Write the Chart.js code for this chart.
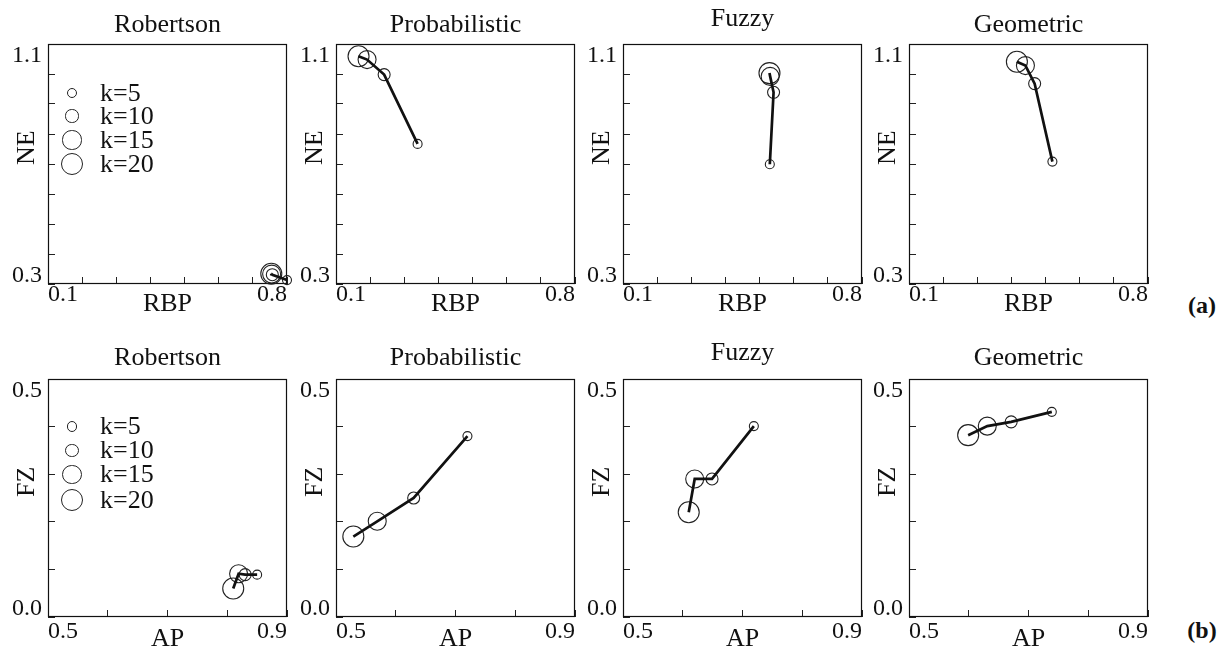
<!DOCTYPE html>
<html><head><meta charset="utf-8">
<script src="https://cdn.jsdelivr.net/npm/chart.js@4.4.1/dist/chart.umd.min.js"></script>
<style>
html,body{margin:0;padding:0;background:#fff;overflow:hidden;width:1227px;height:652px;}
#fig{position:relative;width:1227px;height:652px;font-family:'Liberation Serif','Times New Roman',serif;color:#111;}
.panel{position:absolute;}
.title{position:absolute;font-size:26px;line-height:26px;white-space:nowrap;transform:translateX(-50%);}
.leg{position:absolute;font-size:26px;line-height:26px;white-space:nowrap;}
.mk{position:absolute;border:1.1px solid #222;border-radius:50%;box-sizing:border-box;}
.tag{position:absolute;font-weight:bold;font-size:24px;line-height:24px;white-space:nowrap;transform:translateX(-50%);}
</style></head><body><div id="fig"></div>
<script>
// ---------------- data ----------------
const METHODS = ['Robertson', 'Probabilistic', 'Fuzzy', 'Geometric'];
const K_VALUES = [5, 10, 15, 20];

// (a) RBP vs NE, points ordered k=5,10,15,20
const RBP_ROBERTSON     = [0.800, 0.757, 0.755, 0.754];
const NE_ROBERTSON      = [0.313, 0.331, 0.333, 0.334];
const RBP_PROBABILISTIC = [0.339, 0.241, 0.191, 0.166];
const NE_PROBABILISTIC  = [0.767, 0.998, 1.048, 1.059];
const RBP_FUZZY         = [0.530, 0.541, 0.531, 0.529];
const NE_FUZZY          = [0.699, 0.939, 0.992, 1.003];
const RBP_GEOMETRIC     = [0.520, 0.468, 0.441, 0.416];
const NE_GEOMETRIC      = [0.708, 0.968, 1.028, 1.041];

// (b) AP vs FZ, points ordered k=5,10,15,20
const AP_ROBERTSON      = [0.850, 0.830, 0.819, 0.810];
const FZ_ROBERTSON      = [0.089, 0.089, 0.091, 0.060];
const AP_PROBABILISTIC  = [0.720, 0.630, 0.569, 0.529];
const FZ_PROBABILISTIC  = [0.380, 0.250, 0.201, 0.169];
const AP_FUZZY          = [0.719, 0.649, 0.620, 0.610];
const FZ_FUZZY          = [0.401, 0.290, 0.290, 0.220];
const AP_GEOMETRIC      = [0.739, 0.671, 0.631, 0.599];
const FZ_GEOMETRIC      = [0.431, 0.410, 0.401, 0.382];

// axis ranges / tick labels
const RBP_RANGE = [0.1, 0.8];
const NE_RANGE  = [0.3, 1.1];
const AP_RANGE  = [0.5, 0.9];
const FZ_RANGE  = [0.0, 0.5];
const TICK_STEP = 0.1;
const RBP_TICK_LABELS = ['0.1', '0.8'];
const NE_TICK_LABELS  = ['0.3', '1.1'];
const AP_TICK_LABELS  = ['0.5', '0.9'];
const FZ_TICK_LABELS  = ['0.0', '0.5'];

// ---------------- layout / style ----------------
const SERIF = "'Liberation Serif', 'Times New Roman', serif";
const INK = '#111';
const MARKER_RADII = [4.5, 6, 9, 10.5];
const PLOT_LEFTS = [48, 336, 623, 909];
const PLOT_W = 239;
const YW = 50, TP = 12, RP = 14, XH = 45;
const TICK_FONT = 24;
const TEXT_BASE = 21.8; // baseline offset of a 26px/26px text line

Chart.defaults.font.family = SERIF;
Chart.defaults.color = INK;

const ROWS = [
  { tag: '(a)', tagY: 293, top: 44, h: 240, titleBase: 32.5,
    xName: 'RBP', yName: 'NE', xRange: RBP_RANGE, yRange: NE_RANGE,
    xLabels: RBP_TICK_LABELS, yLabels: NE_TICK_LABELS,
    xTickPad: 3, xTitlePad: 9,
    xs: [RBP_ROBERTSON, RBP_PROBABILISTIC, RBP_FUZZY, RBP_GEOMETRIC],
    ys: [NE_ROBERTSON, NE_PROBABILISTIC, NE_FUZZY, NE_GEOMETRIC],
    legY: [49, 72, 96, 120] },
  { tag: '(b)', tagY: 618, top: 379, h: 238, titleBase: 366,
    xName: 'AP', yName: 'FZ', xRange: AP_RANGE, yRange: FZ_RANGE,
    xLabels: AP_TICK_LABELS, yLabels: FZ_TICK_LABELS,
    xTickPad: 7.5, xTitlePad: 7,
    xs: [AP_ROBERTSON, AP_PROBABILISTIC, AP_FUZZY, AP_GEOMETRIC],
    ys: [FZ_ROBERTSON, FZ_PROBABILISTIC, FZ_FUZZY, FZ_GEOMETRIC],
    legY: [47.5, 71.5, 95.5, 121] }
];

const framePlugin = {
  id: 'frame',
  beforeDatasetsDraw(chart) {
    const a = chart.chartArea, c = chart.ctx;
    c.save();
    c.strokeStyle = INK; c.lineWidth = 1.2;
    c.strokeRect(Math.round(a.left) + 0.5, Math.round(a.top) + 0.5,
                 Math.round(a.right - a.left) - 1, Math.round(a.bottom - a.top) - 1);
    c.restore();
  }
};

const near = (a, b) => Math.abs(a - b) < 1e-6;
const fig = document.getElementById('fig');

function addText(cls, text, left, top) {
  const d = document.createElement('div');
  d.className = cls; d.textContent = text;
  d.style.left = left + 'px'; d.style.top = top + 'px';
  fig.appendChild(d);
  return d;
}

function makePanel(row, m) {
  const plotLeft = PLOT_LEFTS[m], plotTop = row.top, H = row.h;
  const div = document.createElement('div');
  div.className = 'panel';
  div.style.left = (plotLeft - YW) + 'px';
  div.style.top = (plotTop - TP) + 'px';
  div.style.width = (YW + PLOT_W + RP) + 'px';
  div.style.height = (TP + H + XH) + 'px';
  const cv = document.createElement('canvas');
  div.appendChild(cv);
  fig.appendChild(div);

  const xs = row.xs[m], ys = row.ys[m];
  const pts = xs.map((x, i) => ({ x: x, y: ys[i] }));
  const [xMin, xMax] = row.xRange, [yMin, yMax] = row.yRange;

  new Chart(cv, {
    type: 'scatter',
    data: { datasets: [
      { label: 'path', data: pts, showLine: true, borderColor: INK, borderWidth: 2.7,
        pointRadius: 0, clip: false, order: 0 },
      { label: 'k', data: pts, showLine: false, pointStyle: 'circle',
        pointRadius: MARKER_RADII, pointBorderColor: '#222', pointBorderWidth: 1.1,
        pointBackgroundColor: 'rgba(0,0,0,0)', clip: false, order: 1 }
    ]},
    plugins: [framePlugin],
    options: {
      responsive: true, maintainAspectRatio: false, animation: false, events: [],
      layout: { padding: { top: TP, right: RP, left: 0, bottom: 0 } },
      plugins: { legend: { display: false }, tooltip: { enabled: false }, title: { display: false } },
      scales: {
        x: {
          type: 'linear', position: 'bottom', min: xMin, max: xMax,
          border: { display: false },
          grid: { drawOnChartArea: false, drawTicks: true, tickLength: -7, color: '#222', lineWidth: 1 },
          ticks: {
            stepSize: TICK_STEP, autoSkip: false, maxRotation: 0, minRotation: 0, align: 'inner',
            padding: row.xTickPad, color: INK, font: { family: SERIF, size: TICK_FONT, lineHeight: 1.2 },
            callback: v => near(v, xMin) ? row.xLabels[0] : (near(v, xMax) ? row.xLabels[1] : '')
          },
          title: { display: true, text: row.xName, color: INK,
                   font: { family: SERIF, size: 26, lineHeight: 1.2 },
                   padding: { top: 0, bottom: row.xTitlePad } },
          afterFit: s => { s.height = XH; s.paddingLeft = 0; s.paddingRight = 0; }
        },
        y: {
          type: 'linear', position: 'left', min: yMin, max: yMax,
          border: { display: false },
          grid: { drawOnChartArea: false, drawTicks: true, tickLength: -7, color: '#222', lineWidth: 1 },
          ticks: {
            stepSize: TICK_STEP, autoSkip: false, padding: 13, color: INK,
            font: c => ({ family: SERIF, size: TICK_FONT,
                          lineHeight: (c.tick && near(c.tick.value, yMax)) ? '24px' : '17px' }),
            callback: v => near(v, yMax) ? ['', row.yLabels[1]] : (near(v, yMin) ? [row.yLabels[0], ''] : '')
          },
          title: { display: true, text: '\u0020\u0020\u0020\u0020\u0020' + row.yName, color: INK,
                   font: { family: SERIF, size: 26, lineHeight: 1.2 },
                   padding: { top: 13.9, bottom: 0 } },
          afterFit: s => { s.width = YW; s.paddingTop = 0; s.paddingBottom = 0; }
        }
      }
    }
  });

  // panel title
  const base = row.titleBase - (METHODS[m] === 'Fuzzy' ? 5.5 : 0);
  addText('title', METHODS[m], plotLeft + PLOT_W / 2, base - TEXT_BASE);
}

function makeLegend(row) {
  const plotLeft = PLOT_LEFTS[0];
  K_VALUES.forEach((k, i) => {
    const r = MARKER_RADII[i], cy = row.top + row.legY[i], cx = plotLeft + 24;
    const mk = document.createElement('div');
    mk.className = 'mk';
    const d = 2 * r + 1.1;
    mk.style.width = d + 'px'; mk.style.height = d + 'px';
    mk.style.left = (cx - d / 2) + 'px'; mk.style.top = (cy - d / 2) + 'px';
    fig.appendChild(mk);
    addText('leg', 'k=' + k, plotLeft + 52, cy + 8.5 - TEXT_BASE);
  });
}

ROWS.forEach(row => {
  METHODS.forEach((_, m) => makePanel(row, m));
  makeLegend(row);
  addText('tag', row.tag, 1202, row.tagY);
});
</script></body></html>
